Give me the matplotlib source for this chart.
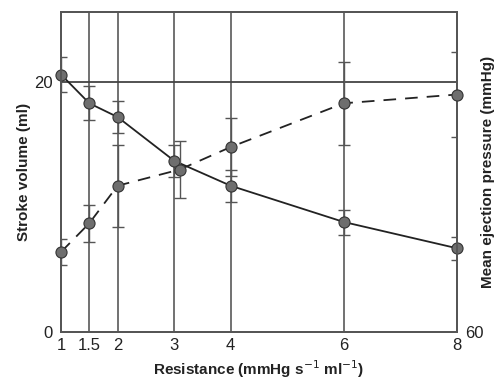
import matplotlib.pyplot as plt
import numpy as np

plt.rcParams['font.family'] = ['Liberation Sans', 'DejaVu Sans']

# Resistance values (mmHg s^-1 ml^-1)
resistance = [1, 1.5, 2, 3, 4, 6, 8]
x_ticks = [1, 1.5, 2, 3, 4, 6, 8]
x_labels = ["1", "1.5", "2", "3", "4", "6", "8"]

# Stroke volume (ml), solid line
stroke_volume = [20.6, 18.3, 17.2, 13.7, 11.7, 8.8, 6.7]
stroke_err = [1.4, 1.35, 1.3, 1.3, 1.3, 1.0, 0.9]

# Mean ejection pressure (mmHg), dashed line
pressure_x = [1, 1.5, 2, 3.1, 4, 6, 8]
pressure = [72.8, 77.4, 83.4, 86.0, 89.6, 96.6, 98.0]
pressure_err = [2.1, 3.0, 6.6, 4.5, 4.6, 6.6, 6.8]

line_col = "#222222"
grid_col = "#666666"
mark_face = "#6e6e6e"

fig = plt.figure(figsize=(5, 3.84), dpi=100)
ax = fig.add_axes([0.122, 0.1354, 0.792, 0.8333])
ax2 = ax.twinx()

# volume axis 0..25.6 ml, pressure axis mapped 60 + 2*ml
ax.set_ylim(0, 25.6)
ax2.set_ylim(60, 60 + 2 * 25.6)
ax.set_xlim(1, 8)

# vertical grid lines and reference line at 20
for xv in x_ticks[1:-1]:
    ax.axvline(xv, color=grid_col, lw=1.3, zorder=1)
ax.axhline(20, color="#444444", lw=1.3, zorder=1)

ax.errorbar(resistance, stroke_volume, yerr=stroke_err, fmt="none",
            ecolor="#555555", elinewidth=1, capsize=4.5, capthick=1, zorder=2)
ax.plot(resistance, stroke_volume, "-", color=line_col, lw=1.3, zorder=3)
ax.plot(resistance, stroke_volume, "o", ms=8, mfc=mark_face, mec="#333333",
        mew=0.8, zorder=5, clip_on=False)

ax2.errorbar(pressure_x, pressure, yerr=pressure_err, fmt="none",
             ecolor="#555555", elinewidth=1, capsize=4.5, capthick=1, zorder=2)
ax2.plot(pressure_x, pressure, "--", color=line_col, lw=1.3, dashes=(7, 5),
         zorder=3)
ax2.plot(pressure_x, pressure, "o", ms=8, mfc=mark_face, mec="#333333",
         mew=0.8, zorder=5, clip_on=False)

for a in (ax, ax2):
    for s in a.spines.values():
        s.set_color("#555555")
        s.set_linewidth(1.3)

ax.set_xticks(x_ticks)
ax.set_xticklabels(x_labels)
ax.set_yticks([0, 20])
ax2.set_yticks([60])
ax.tick_params(length=0, labelsize=12, colors="#222222", pad=6)
ax2.tick_params(length=0, labelsize=12, colors="#222222", pad=6)
ax.tick_params(axis="x", pad=4)

ax.set_xlabel("Resistance (mmHg s$^{-1}$ ml$^{-1}$)", fontsize=11,
              fontweight="bold", color="#222222", labelpad=4)
ax.set_ylabel("Stroke volume (ml)", fontsize=11, fontweight="bold",
              color="#222222", labelpad=2)
fig.text(488 / 500, 1 - 172 / 384, "Mean ejection pressure (mmHg)",
         fontsize=11, fontweight="bold", color="#222222", rotation=90,
         ha="center", va="center")

fig.savefig("out.png", dpi=100)
